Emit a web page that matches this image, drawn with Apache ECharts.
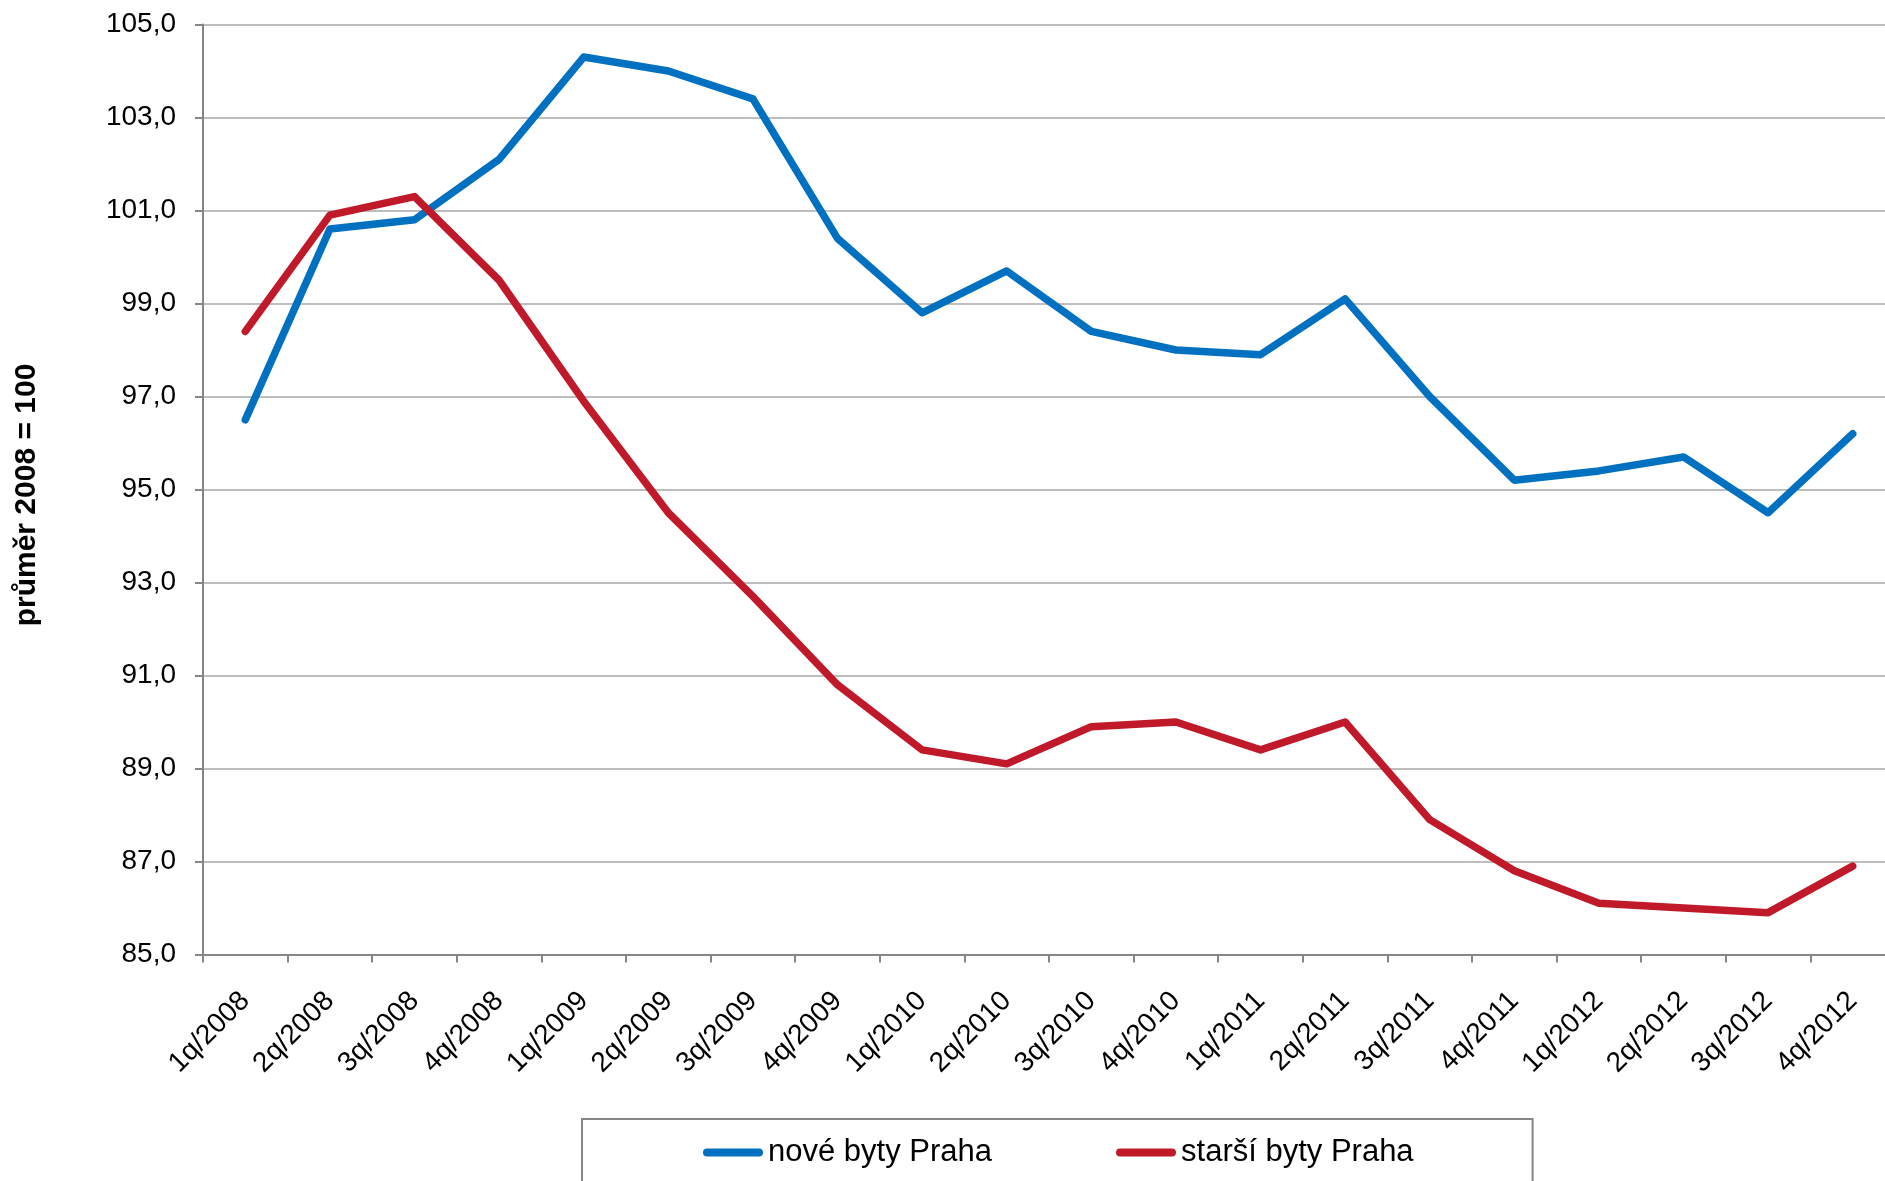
<!DOCTYPE html>
<html>
<head>
<meta charset="utf-8">
<script src="https://cdn.jsdelivr.net/npm/echarts@6/dist/echarts.min.js"></script>
<style>
  html, body { margin: 0; padding: 0; background: #fff; }
  #chart { width: 1885px; height: 1181px; }
</style>
</head>
<body>
<div id="chart"></div>
<script>
// ctvrtleti
var quarters = ['1q/2008', '2q/2008', '3q/2008', '4q/2008', '1q/2009', '2q/2009', '3q/2009', '4q/2009',
  '1q/2010', '2q/2010', '3q/2010', '4q/2010', '1q/2011', '2q/2011', '3q/2011', '4q/2011',
  '1q/2012', '2q/2012', '3q/2012', '4q/2012'];

// nove byty Praha
var noveByty = [96.5, 100.6, 100.8, 102.1, 104.3, 104.0, 103.4, 100.4, 98.8, 99.7,
  98.4, 98.0, 97.9, 99.1, 97.0, 95.2, 95.4, 95.7, 94.5, 96.2];

// starsi byty Praha
var starsiByty = [98.4, 100.9, 101.3, 99.5, 96.9, 94.5, 92.7, 90.8, 89.4, 89.1,
  89.9, 90.0, 89.4, 90.0, 87.9, 86.8, 86.1, 86.0, 85.9, 86.9];

var seriesNames = ['nové byty Praha', 'starší byty Praha'];
var yTitle = 'průměr 2008 = 100';

var font = "'Liberation Sans', Arial, sans-serif";
var blue = '#0070C0';
var red = '#C0192A';
var capsule = 'path://M4,0 L56,0 A4,4 0 0 1 56,8 L4,8 A4,4 0 0 1 4,0 Z';

var chart = echarts.init(document.getElementById('chart'));

var option = {
  animation: false,
  backgroundColor: '#fff',
  textStyle: { fontFamily: font },
  grid: {
    left: 203,
    top: 24.5,
    height: 930,
    width: 1692,
    outerBoundsMode: 'none',
    containLabel: false
  },
  legend: {
    left: 582,
    top: 1119,
    orient: 'horizontal',
    padding: [18, 119, 40, 121],
    borderColor: '#868686',
    borderWidth: 2,
    itemWidth: 60,
    itemHeight: 8,
    itemGap: 124,
    textStyle: { fontSize: 31, color: '#000', fontFamily: font, lineHeight: 30 },
    data: [
      { name: seriesNames[0], icon: capsule, itemStyle: { color: blue } },
      { name: seriesNames[1], icon: capsule, itemStyle: { color: red } }
    ]
  },
  xAxis: {
    type: 'category',
    data: quarters,
    boundaryGap: true,
    axisLine: { lineStyle: { color: '#868686', width: 2 } },
    axisTick: { show: true, length: 8, lineStyle: { color: '#868686', width: 2 } },
    axisLabel: {
      rotate: 45,
      margin: 42,
      fontSize: 28,
      color: '#000',
      fontFamily: font,
      interval: 0
    },
    splitLine: { show: false }
  },
  yAxis: {
    type: 'value',
    min: 85,
    max: 105,
    interval: 2,
    axisLine: { show: true, lineStyle: { color: '#868686', width: 2 } },
    axisTick: { show: true, length: 8, lineStyle: { color: '#868686', width: 2 } },
    axisLabel: {
      margin: 27,
      fontSize: 28,
      color: '#000',
      fontFamily: font,
      formatter: function (v) {
        return v.toFixed(1).replace('.', ',');
      }
    },
    splitLine: { lineStyle: { color: '#BEBEBE', width: 2 } }
  },
  graphic: [{
    type: 'text',
    x: 27,
    y: 495,
    rotation: Math.PI / 2,
    style: {
      text: yTitle,
      font: 'bold 30px ' + font,
      fill: '#000',
      align: 'center',
      verticalAlign: 'middle'
    }
  }],
  series: [{
    name: seriesNames[0],
    type: 'line',
    data: noveByty,
    symbol: 'none',
    lineStyle: { color: blue, width: 7.5, cap: 'round', join: 'round' },
    itemStyle: { color: blue }
  }, {
    name: seriesNames[1],
    type: 'line',
    data: starsiByty,
    symbol: 'none',
    lineStyle: { color: red, width: 7.5, cap: 'round', join: 'round' },
    itemStyle: { color: red }
  }]
};

chart.setOption(option);
</script>
</body>
</html>
